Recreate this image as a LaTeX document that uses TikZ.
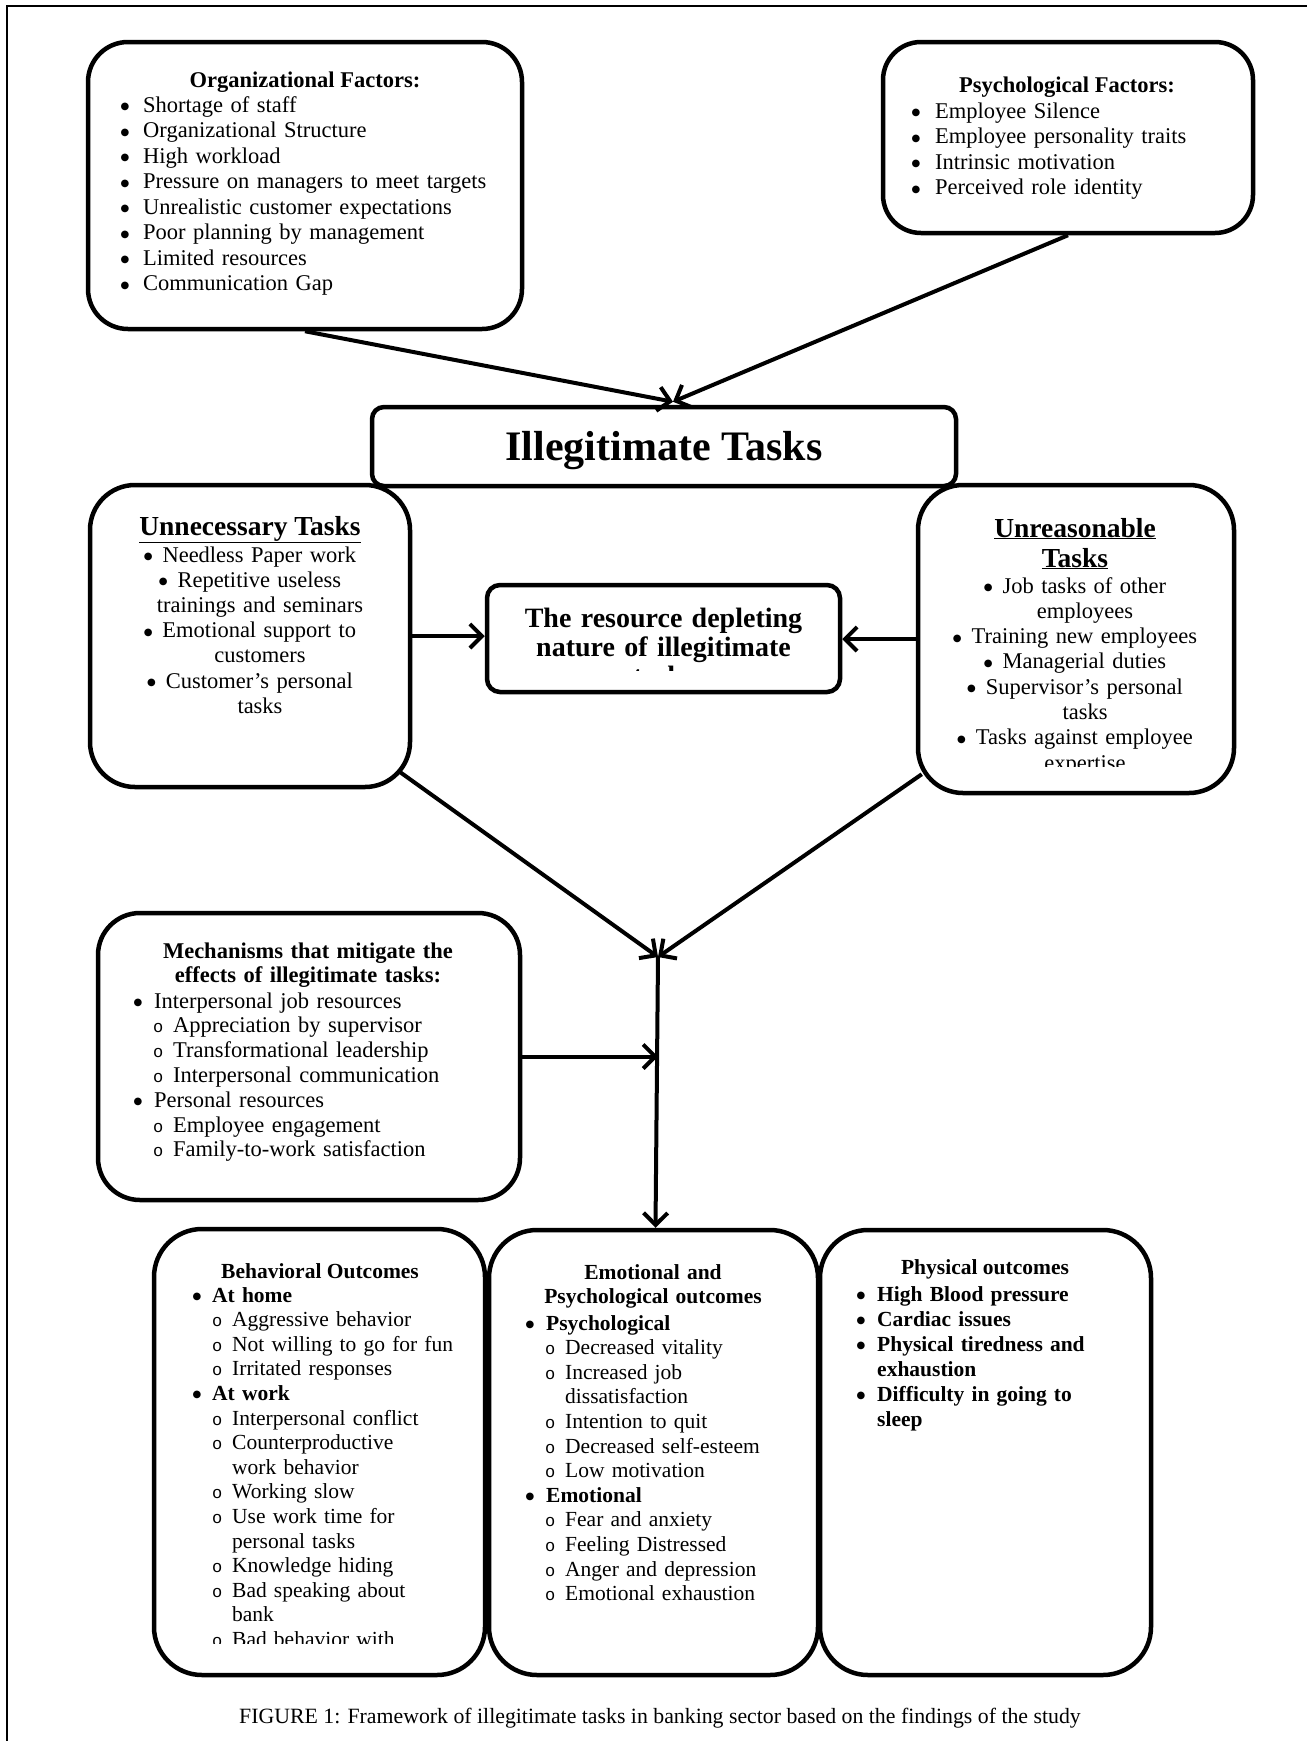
\documentclass[tikz,border=0pt]{standalone}
\usepackage{fontspec}
\setmainfont{Liberation Serif}
\newfontfamily\monof{Liberation Mono}
\newfontfamily\djv{DejaVu Sans}
\usetikzlibrary{arrows.meta,calc}
\newcommand\bul{\raisebox{2.5pt}{\djv\fontsize{10pt}{10pt}\selectfont ●}}
\newcommand\bu[1][20pt]{\makebox[#1][l]{\hspace*{-0.5pt}\bul}}
\newcommand\ci{\hspace*{19pt}\makebox[20pt][l]{\monof\fontsize{17pt}{17pt}\selectfont o}}
\newcommand\fz[2]{\fontsize{#1pt}{#2pt}\selectfont}
\begin{document}
\begin{tikzpicture}[x=1pt,y=-1pt,
  bx/.style={draw, line width=4.5pt, rectangle, inner sep=0pt},
  lst/.style={inner sep=0pt, align=left, text width=#1},
  lst/.default=300pt,
  ttl/.style={inner sep=0pt, anchor=base},
  arr/.style={line width=4pt, -{Straight Barb[length=12pt,width=24pt]}}]
\fill[white] (0,0) rectangle (1307,1741);
\useasboundingbox (0,0) rectangle (1307,1741);
% frame
\draw[line width=2.5pt] (7,1741) -- (7,6) -- (1307,6);

% Organizational factors
\node[bx, rounded corners=40pt, minimum width=434pt, minimum height=287pt] (org) at (305,185.5) {};
\node[ttl, font=\bfseries\fz{22.5}{25.5}] (orgT) at (305,87) {Organizational Factors:};
\node[lst=380pt, anchor=base west, font=\fz{22.5}{25.5}] (orgL) at (121,112)
 {\bu[22pt]Shortage of staff\\
  \bu[22pt]Organizational Structure\\
  \bu[22pt]High workload\\
  \bu[22pt]Pressure on managers to meet targets\\
  \bu[22pt]Unrealistic customer expectations\\
  \bu[22pt]Poor planning by management\\
  \bu[22pt]Limited resources\\
  \bu[22pt]Communication Gap};

% Psychological factors
\node[bx, rounded corners=38pt, minimum width=370pt, minimum height=191pt] (psy) at (1068,137.5) {};
\node[ttl, font=\bfseries\fz{22.5}{25.5}] (psyT) at (1067,92) {Psychological Factors:};
\node[lst=330pt, anchor=base west, font=\fz{22.5}{25.6}] (psyL) at (912,118)
 {\bu[23pt]Employee Silence\\
  \bu[23pt]Employee personality traits\\
  \bu[23pt]Intrinsic motivation\\
  \bu[23pt]Perceived role identity};

% Illegitimate tasks
\node[bx, rounded corners=12pt, minimum width=584pt, minimum height=79pt] (ill) at (664,446.5) {};
\node[inner sep=0pt, font=\bfseries\fz{42}{48}] (illT) at (664,451) {Illegitimate Tasks};

% Unnecessary tasks
\node[bx, rounded corners=45pt, minimum width=320pt, minimum height=302pt] (unn) at (250,636) {};
\node[ttl, font=\bfseries\fz{27.5}{30}] (unnT) at (250,535) {\underline{Unnecessary Tasks}};
\node[lst=300pt, align=center, anchor=base, font=\fz{22.5}{25.2}] (unnL) at (250,562)
 {\bul\hspace{10pt}Needless Paper work\\
  \bul\hspace{10pt}Repetitive useless\\
  \hspace*{20pt}trainings and seminars\\
  \bul\hspace{10pt}Emotional support to\\
  \hspace*{20pt}customers\\
  \bul\hspace{10pt}Customer’s personal\\
  \hspace*{20pt}tasks};

% Resource depleting
\node[bx, rounded corners=13pt, minimum width=353pt, minimum height=107pt] (res) at (663.5,638.5) {};
\begin{scope}
\clip (487,585) rectangle (840,670);
\node[lst=340pt, align=center, anchor=base, font=\bfseries\fz{28}{29}] (resT) at (663.5,627)
 {The resource depleting\\ nature of illegitimate\\ tasks};
\end{scope}

% Unreasonable tasks
\node[bx, rounded corners=45pt, minimum width=316pt, minimum height=308pt] (unr) at (1076,639) {};
\node[lst=300pt, align=center, anchor=base, font=\bfseries\fz{27.5}{30}] (unrT) at (1075,537)
 {\underline{Unreasonable}\\ \underline{Tasks}};
\begin{scope}
\clip (918,485) rectangle (1234,766);
\node[lst=300pt, align=center, anchor=base, font=\fz{22.5}{25.3}] (unrL) at (1075,593)
 {\bul\hspace{10pt}Job tasks of other\\
  \hspace*{20pt}employees\\
  \bul\hspace{10pt}Training new employees\\
  \bul\hspace{10pt}Managerial duties\\
  \bul\hspace{10pt}Supervisor’s personal\\
  \hspace*{20pt}tasks\\
  \bul\hspace{10pt}Tasks against employee\\
  \hspace*{20pt}expertise};
\end{scope}

% Mechanisms
\node[bx, rounded corners=42pt, minimum width=422pt, minimum height=287pt] (mec) at (309,1056.5) {};
\node[lst=400pt, align=center, anchor=base, font=\bfseries\fz{22.5}{24}] (mecT) at (308,958)
 {Mechanisms that mitigate the\\ effects of illegitimate tasks:};
\node[lst=380pt, anchor=base west, font=\fz{22.5}{24.8}] (mecL) at (134,1008)
 {\bu Interpersonal job resources\\
  \ci Appreciation by supervisor\\
  \ci Transformational leadership\\
  \ci Interpersonal communication\\
  \bu Personal resources\\
  \ci Employee engagement\\
  \ci Family-to-work satisfaction};

% Behavioral outcomes
\node[bx, rounded corners=48pt, minimum width=331pt, minimum height=446pt] (beh) at (319.5,1452) {};
\node[ttl, font=\bfseries\fz{21.5}{24}] (behT) at (320,1278) {Behavioral Outcomes};
\begin{scope}
\clip (154,1229) rectangle (485,1643);
\node[lst=280pt, anchor=base west, font=\fz{21.5}{24.6}] (behL) at (193,1302)
 {\bu[19pt]\textbf{At home}\\
  \ci Aggressive behavior\\
  \ci Not willing to go for fun\\
  \ci Irritated responses\\
  \bu[19pt]\textbf{At work}\\
  \ci Interpersonal conflict\\
  \ci Counterproductive\\
  \hspace*{39pt}work behavior\\
  \ci Working slow\\
  \ci Use work time for\\
  \hspace*{39pt}personal tasks\\
  \ci Knowledge hiding\\
  \ci Bad speaking about\\
  \hspace*{39pt}bank\\
  \ci Bad behavior with};
\end{scope}

% Emotional and psychological outcomes
\node[bx, rounded corners=48pt, minimum width=329pt, minimum height=445pt] (emo) at (653.5,1452.5) {};
\node[lst=310pt, align=center, anchor=base, font=\bfseries\fz{21.5}{24}] (emoT) at (653,1279)
 {Emotional and\\ Psychological outcomes};
\node[lst=280pt, anchor=base west, font=\fz{21.5}{24.6}] (emoL) at (526,1330)
 {\bu\textbf{Psychological}\\
  \ci Decreased vitality\\
  \ci Increased job\\
  \hspace*{39pt}dissatisfaction\\
  \ci Intention to quit\\
  \ci Decreased self-esteem\\
  \ci Low motivation\\
  \bu\textbf{Emotional}\\
  \ci Fear and anxiety\\
  \ci Feeling Distressed\\
  \ci Anger and depression\\
  \ci Emotional exhaustion};

% Physical outcomes
\node[bx, rounded corners=48pt, minimum width=331pt, minimum height=445pt] (phy) at (985.5,1452.5) {};
\node[ttl, font=\bfseries\fz{21.5}{24}] (phyT) at (985,1274) {Physical outcomes};
\node[lst=280pt, anchor=base west, font=\bfseries\fz{21.5}{25}] (phyL) at (857,1301)
 {\bu High Blood pressure\\
  \bu Cardiac issues\\
  \bu Physical tiredness and\\
  \hspace*{20pt}exhaustion\\
  \bu Difficulty in going to\\
  \hspace*{20pt}sleep};

% caption
\node[ttl, font=\fz{21.8}{24}] (cap) at (660,1723)
 {FIGURE 1: Framework of illegitimate tasks in banking sector based on the findings of the study};

% connectors
\coordinate (illtop) at ($(ill.north)+(9,-3)$);
\coordinate (mid) at (658,957);
\draw[arr] (org.south) -- (illtop);
\draw[arr] (psy.south) -- (illtop);
\draw[arr] (unn.east) -- (unn.east -| res.west);
\draw[arr] (unr.west) -- (unr.west -| res.east);
\draw[arr] ($(unn.south east)+(-12,-17)$) -- (mid);
\draw[arr] ($(unr.south west)+(6,-21)$) -- (mid);
\draw[arr] (mid) -- ($(emo.north)+(2,0)$);
\draw[arr] (mec.east) -- (mec.east -| mid);
\end{tikzpicture}
\end{document}
